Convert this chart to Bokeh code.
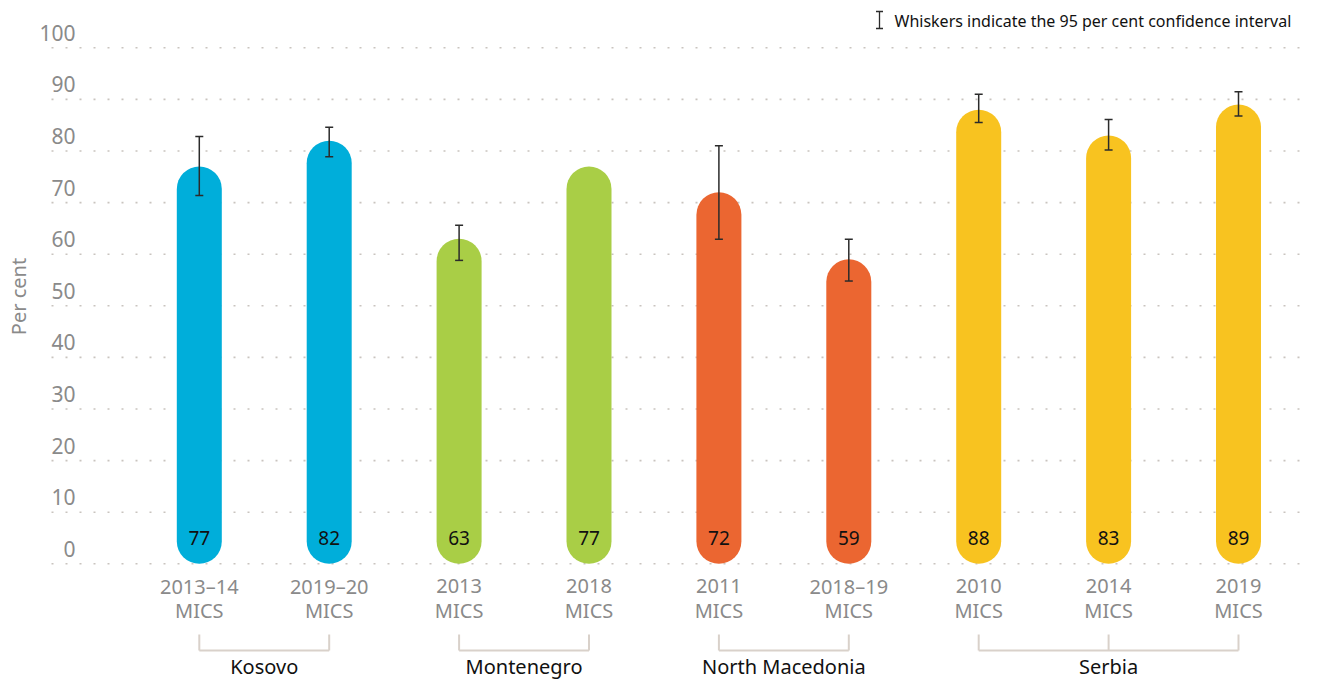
import math
from bokeh.plotting import figure
from bokeh.models import Range1d, ColumnDataSource
from bokeh.core.properties import value
from bokeh.embed import file_html
from bokeh.resources import INLINE

# ---------------- data ----------------
surveys = ["2013–14", "2019–20", "2013", "2018", "2011", "2018–19", "2010", "2014", "2019"]
survey_type = ["MICS"] * 9
countries = ["Kosovo", "Kosovo", "Montenegro", "Montenegro", "North Macedonia",
             "North Macedonia", "Serbia", "Serbia", "Serbia"]
values = [77, 82, 63, 77, 72, 59, 88, 83, 89]
ci_low = [71.4, 78.9, 58.8, float("nan"), 62.9, 54.8, 85.5, 80.2, 86.8]
ci_high = [82.8, 84.6, 65.6, float("nan"), 81.0, 62.9, 91.0, 86.1, 91.5]
group_names = ["Kosovo", "Montenegro", "North Macedonia", "Serbia"]
country_colors = {"Kosovo": "#00AEDA", "Montenegro": "#A9CE46",
                  "North Macedonia": "#EB6631", "Serbia": "#F8C320"}
y_ticks = [0, 10, 20, 30, 40, 50, 60, 70, 80, 90, 100]
y_title = "Per cent"
legend_text = "Whiskers indicate the 95 per cent confidence interval"

# ---------------- layout constants ----------------
W, H = 1304, 679
X0, XS = 198.8, 129.9     # px of index 0, px per index
Y0, YS = 563.3, 5.16      # px (from top) of value 0, px per unit

def dx(px):
    return (px - X0) / XS

def dy(py):
    return (Y0 - py) / YS

FONT = value("Noto Sans")
GREY = "#8a8a8a"

p = figure(width=W, height=H, output_backend="svg", toolbar_location=None,
           x_range=Range1d(-X0 / XS, (W - X0) / XS),
           y_range=Range1d((Y0 - H) / YS, Y0 / YS),
           min_border=0, min_border_left=0, min_border_right=0,
           min_border_top=0, min_border_bottom=0)
p.axis.visible = False
p.grid.visible = False
p.outline_line_color = None
p.background_fill_color = "white"
p.border_fill_color = "white"

idx = list(range(len(values)))

# dotted gridlines
p.segment(x0=[dx(51)] * len(y_ticks), x1=[dx(1304)] * len(y_ticks), y0=y_ticks, y1=y_ticks,
          line_color="#c9c4bf", line_width=1.6, line_dash="2 12")

# y tick labels
p.text(x=[dx(75)] * len(y_ticks), y=y_ticks, text=[str(t) for t in y_ticks],
       text_font=FONT, text_font_size="21px", text_color=GREY,
       text_align="right", text_baseline="middle", y_offset=-15)

# y title
p.text(x=[dx(18)], y=[dy(296)], text=[y_title], angle=math.pi / 2,
       text_font=FONT, text_font_size="20px", text_color=GREY,
       text_align="center", text_baseline="middle")

# rounded bars (thick segments with round caps)
bar_px = 45
r = (bar_px / 2) / YS
src = ColumnDataSource(dict(
    x=idx, y0=[r] * len(values), y1=[v - r for v in values],
    color=[country_colors[c] for c in countries]))
p.segment(x0="x", x1="x", y0="y0", y1="y1", source=src,
          line_color="color", line_width=bar_px, line_cap="round")

# whiskers
cap = 4 / XS
wx = [i for i in idx if not math.isnan(ci_low[i])]
lo = [ci_low[i] for i in wx]
hi = [ci_high[i] for i in wx]
p.segment(x0=wx, x1=wx, y0=lo, y1=hi, line_color="#2b2b2b", line_width=1.5)
p.segment(x0=[x - cap for x in wx], x1=[x + cap for x in wx], y0=lo, y1=lo,
          line_color="#2b2b2b", line_width=1.5)
p.segment(x0=[x - cap for x in wx], x1=[x + cap for x in wx], y0=hi, y1=hi,
          line_color="#2b2b2b", line_width=1.5)

# value labels inside the bars
p.text(x=idx, y=[5] * len(values), text=[str(v) for v in values],
       text_font=FONT, text_font_size="19px", text_color="#111111",
       text_align="center", text_baseline="middle")

# x category labels (two lines)
p.text(x=idx, y=[dy(585.5)] * len(idx), text=surveys,
       text_font=FONT, text_font_size="20px", text_color=GREY,
       text_align="center", text_baseline="middle")
p.text(x=idx, y=[dy(609.5)] * len(idx), text=survey_type,
       text_font=FONT, text_font_size="20px", text_color=GREY,
       text_align="center", text_baseline="middle")

# group brackets and names
b_top, b_bot = dy(634), dy(650)
bracket_col = "#d9d1ca"
for g in group_names:
    members = [i for i in idx if countries[i] == g]
    first, last = members[0], members[-1]
    p.segment(x0=members, x1=members, y0=[b_top] * len(members), y1=[b_bot] * len(members),
              line_color=bracket_col, line_width=2)
    p.segment(x0=[first], x1=[last], y0=[b_bot], y1=[b_bot],
              line_color=bracket_col, line_width=2)
    p.text(x=[(first + last) / 2], y=[dy(666)], text=[g],
           text_font=FONT, text_font_size="20px", text_color="#111111",
           text_align="center", text_baseline="middle")

# legend (whisker icon + text)
ix = dx(879)
p.segment(x0=[ix], x1=[ix], y0=[dy(11)], y1=[dy(28)], line_color="#2b2b2b", line_width=1.3)
p.segment(x0=[ix - 3.5 / XS] * 2, x1=[ix + 3.5 / XS] * 2, y0=[dy(11), dy(28)], y1=[dy(11), dy(28)],
          line_color="#2b2b2b", line_width=1.3)
p.text(x=[dx(894)], y=[dy(20)], text=[legend_text],
       text_font=FONT, text_font_size="16px", text_color="#111111",
       text_align="left", text_baseline="middle")

open("out.html", "w").write(file_html(p, INLINE))
